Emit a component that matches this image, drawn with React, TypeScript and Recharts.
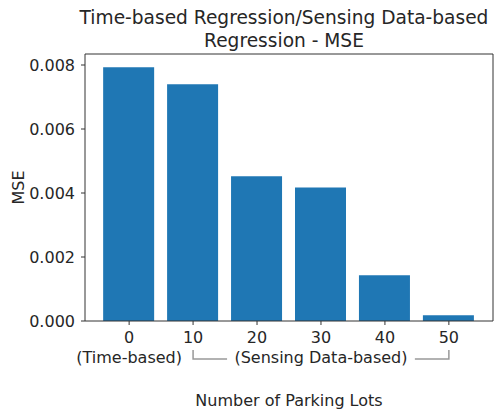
import React from 'react';
import { BarChart, Bar, XAxis, YAxis, ReferenceLine } from 'recharts';

const lots = [0, 10, 20, 30, 40, 50];
const mse = [0.00793, 0.0074, 0.00452, 0.00417, 0.00143, 0.00018];
const yTicks = [0, 0.002, 0.004, 0.006, 0.008];
const groupLabels = [
  { at: 0, text: '(Time-based)' },
  { at: 30, text: '(Sensing Data-based)' },
];
const bracketStart = 10;
const bracketEnd = 50;

const data = lots.map((l, i) => ({ lots: l, mse: mse[i] }));

const X_MIN = -6.9;
const X_MAX = 56.9;
const Y_MAX = 0.008344;

const FONT = '"DejaVu Sans", sans-serif';
const TEXT = '#262626';
const SPINE = '#333333';

const XTick = (props: any) => {
  const { x, y, payload } = props;
  const v = payload.value;
  const group = groupLabels.find((g) => g.at === v);
  return (
    <g fontFamily={FONT} fontSize={16} fill={TEXT}>
      <text x={x} y={y + 14} textAnchor="middle">{v}</text>
      {group && (
        <text x={x} y={y + 34} textAnchor="middle">{group.text}</text>
      )}
      {v === bracketStart && (
        <path d={`M${x},${y + 21} V${y + 30} H${x + 34}`} stroke="#999" strokeWidth={1.5} fill="none" />
      )}
      {v === bracketEnd && (
        <path d={`M${x - 34},${y + 30} H${x} V${y + 21}`} stroke="#999" strokeWidth={1.5} fill="none" />
      )}
    </g>
  );
};

export default function App() {
  return (
    <div style={{ position: 'absolute', left: 0, top: 0, width: 500, height: 413, background: '#fff' }}>
      <div
        style={{
          position: 'absolute',
          left: 284,
          top: 6,
          transform: 'translateX(-50%)',
          whiteSpace: 'nowrap',
          textAlign: 'center',
          fontFamily: FONT,
          fontSize: 18.6,
          lineHeight: '23px',
          color: TEXT,
        }}
      >
        Time-based Regression/Sensing Data-based
        <br />
        Regression - MSE
      </div>
      <BarChart width={500} height={413} data={data} margin={{ top: 54, right: 7, left: 10, bottom: 0 }}>
        <XAxis
          dataKey="lots"
          type="number"
          domain={[X_MIN, X_MAX]}
          ticks={lots}
          allowDataOverflow
          height={92}
          tick={<XTick />}
          tickSize={4}
          tickMargin={4}
          tickLine={{ stroke: SPINE }}
          axisLine={{ stroke: SPINE }}
          label={{ value: 'Number of Parking Lots', position: 'insideBottom', offset: 7, fontFamily: FONT, fontSize: 16, fill: TEXT }}
        />
        <YAxis
          type="number"
          domain={[0, Y_MAX]}
          ticks={yTicks}
          allowDataOverflow
          width={75}
          tickSize={4}
          tickMargin={6}
          tickFormatter={(v: number) => v.toFixed(3)}
          tick={{ fontFamily: FONT, fontSize: 16, fill: TEXT }}
          tickLine={{ stroke: SPINE }}
          axisLine={{ stroke: SPINE }}
          label={{ value: 'MSE', angle: -90, position: 'insideLeft', offset: 8, fontFamily: FONT, fontSize: 16, fill: TEXT, style: { textAnchor: 'middle' } }}
        />
        <Bar dataKey="mse" fill="#1f77b4" barSize={51} isAnimationActive={false} />
        <ReferenceLine y={Y_MAX} stroke={SPINE} ifOverflow="visible" />
        <ReferenceLine x={X_MAX} stroke={SPINE} ifOverflow="visible" />
      </BarChart>
    </div>
  );
}
